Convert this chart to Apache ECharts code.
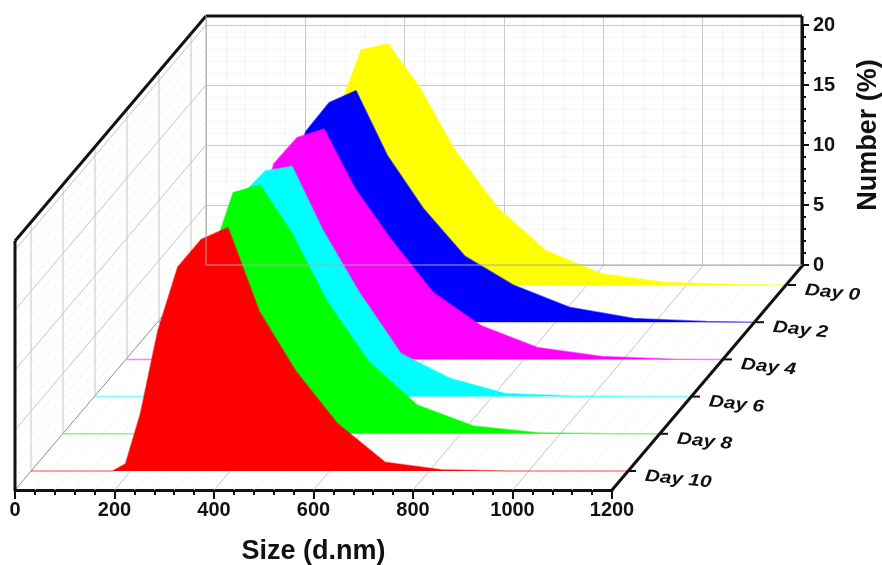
<!DOCTYPE html>
<html>
<head>
<meta charset="utf-8">
<style>html,body{margin:0;padding:0;background:#fff}#c{width:882px;height:565px}</style>
<script src="https://cdn.jsdelivr.net/npm/echarts@6/dist/echarts.min.js"></script>
</head>
<body>
<div id="c"></div>
<script>
var sizes = [0, 164, 190, 220, 255, 295, 342, 396, 459, 531, 615, 712, 825, 955, 1100, 1200];
var day0  = [0, 0, 0.4, 3.3, 9.5, 14.4, 19.6, 20.1, 16.5, 11.2, 6.5, 2.9, 0.93, 0.21, 0.04, 0];
var day2  = [0, 0, 0.5, 3.7, 10.9, 15.9, 18.3, 19.3, 13.9, 9.5, 5.5, 3.1, 1.25, 0.31, 0.05, 0];
var day4  = [0, 0, 0.5, 3.6, 10.2, 16.3, 18.5, 19.2, 14.2, 10.0, 5.6, 2.8, 1.0, 0.25, 0.02, 0];
var day6  = [0, 0, 0.5, 3.9, 10.9, 16.8, 18.8, 19.2, 13.8, 8.7, 3.6, 1.56, 0.25, 0.06, 0.01, 0];
var day8  = [0, 0, 0.4, 2.9, 8.7, 14.3, 20.1, 20.75, 16.8, 11.0, 6.0, 2.4, 0.66, 0.08, 0.01, 0];
var day10 = [0, 0, 0.6, 4.8, 11.7, 17.0, 19.3, 20.3, 13.3, 8.4, 4.0, 0.73, 0.1, 0.01, 0, 0];
var dayNames = ['Day 0', 'Day 2', 'Day 4', 'Day 6', 'Day 8', 'Day 10'];
var dayValues = [day0, day2, day4, day6, day8, day10];
var dayColors = ['#ffff00', '#0000ff', '#ff00ff', '#00ffff', '#00ff00', '#ff0000'];
var xTicks = [0, 200, 400, 600, 800, 1000, 1200];
var yTicks = [0, 5, 10, 15, 20];
var xMinor = [];
var yMinor = [];
for (var t = 40; t < 1200; t += 40) if (t % 200) xMinor.push(t);
for (var u = 1; u < 20; u++) if (u % 5) yMinor.push(u);

var TOP = 20.75;
var W = 597, H = 249, DX = 191, DY = -225;
var FONT = '"Liberation Sans", Arial, sans-serif';
var AX = '#111';
var plain = function (v) { return String(v); };
var grids = [
  {left: 15, top: 241, width: W, height: H, outerBoundsMode: 'none'},
  {left: 206, top: 16, width: W - 1, height: H, outerBoundsMode: 'none'},
  {left: 206, top: 25, width: W - 1, height: 240, outerBoundsMode: 'none'}
];
var xAxes = [
  {gridIndex: 0, type: 'value', min: 0, max: 1200, interval: 200, position: 'bottom',
   name: 'Size (d.nm)', nameLocation: 'middle', nameGap: 48,
   nameTextStyle: {fontFamily: FONT, fontWeight: 'bold', fontSize: 27, color: AX},
   axisLine: {show: true, onZero: false, lineStyle: {color: AX, width: 3}},
   axisTick: {show: true, inside: false, length: 9, lineStyle: {color: AX, width: 2}},
   minorTick: {show: true, splitNumber: 5, length: 5, lineStyle: {color: AX, width: 2}},
   axisLabel: {formatter: plain, fontFamily: FONT, fontWeight: 'bold', fontSize: 20, color: AX, margin: 10, hideOverlap: false, showMinLabel: true, showMaxLabel: true},
   splitLine: {show: false}},
  {gridIndex: 1, type: 'value', min: 0, max: 1200, interval: 200, position: 'bottom',
   axisLine: {show: false}, axisTick: {show: false}, axisLabel: {show: false},
   minorTick: {show: false, splitNumber: 5},
   splitLine: {show: true, lineStyle: {color: '#c9c9c9', width: 1}},
   minorSplitLine: {show: true, lineStyle: {color: '#ececec', width: 1, type: 'dotted'}}},
  {gridIndex: 2, type: 'value', min: 0, max: 1200, show: false}
];
var yAxes = [
  {gridIndex: 0, type: 'value', min: 0, max: TOP, show: false},
  {gridIndex: 1, type: 'value', min: 0, max: TOP, show: false},
  {gridIndex: 2, type: 'value', min: 0, max: 20, interval: 5, position: 'right',
   name: 'Number (%)', nameLocation: 'middle', nameRotate: 90, nameGap: 53,
   nameTextStyle: {fontFamily: FONT, fontWeight: 'bold', fontSize: 27, color: AX, padding: [0, 0, 0, 20]},
   axisLine: {show: true, onZero: false, lineStyle: {color: AX, width: 3}},
   axisTick: {show: true, inside: false, length: 7, lineStyle: {color: AX, width: 2}},
   minorTick: {show: true, splitNumber: 5, length: 4, lineStyle: {color: AX, width: 2}},
   axisLabel: {formatter: plain, fontFamily: FONT, fontWeight: 'bold', fontSize: 20, color: AX, margin: 11, showMinLabel: true, showMaxLabel: true},
   splitLine: {show: true, lineStyle: {color: '#c9c9c9', width: 1}},
   minorSplitLine: {show: true, lineStyle: {color: '#ececec', width: 1, type: 'dotted'}}}
];

function line(p, q, stroke, width, dash) {
  return {type: 'line', shape: {x1: p[0], y1: p[1], x2: q[0], y2: q[1]},
          style: {stroke: stroke, lineWidth: width, lineDash: dash || null, fill: null}, silent: true};
}
function depthSeries(data, mk, stroke, width, dash, z) {
  return {type: 'custom', coordinateSystem: 'cartesian2d', xAxisIndex: 0, yAxisIndex: 0,
    clip: false, silent: true, z: z, animation: false, data: data.map(function (d) { return [d]; }),
    encode: {x: 0},
    renderItem: function (params, api) {
      var a = api.coord(mk(api.value(0)));
      return line(a, [a[0] + DX, a[1] + DY], stroke, width, dash);
    }};
}
function onFloor(v) { return [v, 0]; }
function onWall(v) { return [0, v]; }

var series = [
  depthSeries(xMinor, onFloor, '#efefef', 1, [3, 2], 1),
  depthSeries(yMinor, onWall, '#efefef', 1, [3, 2], 1),
  depthSeries(xTicks.slice(1, -1), onFloor, '#c4c4c4', 1, null, 1),
  depthSeries(yTicks.slice(1, -1), onWall, '#c4c4c4', 1, null, 1),
  depthSeries([20], onWall, '#c4c4c4', 1, null, 1),
  depthSeries([0], onFloor, '#8c8c8c', 1, null, 1),
  depthSeries([1200], onFloor, AX, 3, null, 20),
  depthSeries([TOP], onWall, AX, 3, null, 20),
  {type: 'custom', coordinateSystem: 'cartesian2d', xAxisIndex: 1, yAxisIndex: 1, clip: false, silent: true, z: 20,
   data: [[0]], encode: {x: 0},
   renderItem: function (params, api) {
     return {type: 'group', children: [
       line(api.coord([0, TOP]), api.coord([1200, TOP]), AX, 3),
       line(api.coord([1200, 0]), api.coord([1200, TOP]), AX, 3),
       line(api.coord([0, 0]), api.coord([0, TOP]), '#a8a8a8', 1),
       line(api.coord([0, 0]), api.coord([1200, 0]), '#a8a8a8', 1)
     ]};
   }},
  {type: 'custom', coordinateSystem: 'cartesian2d', xAxisIndex: 0, yAxisIndex: 0, clip: false, silent: true, z: 20,
   data: [[0]], encode: {x: 0},
   renderItem: function (params, api) {
     return line(api.coord([0, 0]), api.coord([0, TOP]), AX, 3);
   }}
];

dayNames.forEach(function (name, i) {
  var g = grids.length;
  grids.push({left: 31 + 32 * (5 - i), top: 222 - 37.2 * (5 - i), width: W, height: H, outerBoundsMode: 'none'});
  xAxes.push({gridIndex: g, type: 'value', min: 0, max: 1200, show: false});
  yAxes.push({gridIndex: g, type: 'value', min: 0, max: TOP, show: false});
  series.push({
    type: 'line', name: name, xAxisIndex: g, yAxisIndex: g, z: 5 + i, showSymbol: false, symbol: 'none',
    animation: false, silent: true, clip: false,
    data: sizes.map(function (s, k) { return [s, dayValues[i][k]]; }),
    lineStyle: {color: dayColors[i], width: 1.5, opacity: 0.5},
    areaStyle: {color: dayColors[i], opacity: 1},
    itemStyle: {color: dayColors[i]}
  });
  series.push({
    type: 'custom', coordinateSystem: 'cartesian2d', xAxisIndex: g, yAxisIndex: g, clip: false, silent: true, z: 2,
    data: [[0]], encode: {x: 0},
    renderItem: function (params, api) {
      return line(api.coord([0, 0]), api.coord([0, TOP]), '#c4c4c4', 1);
    }
  });
  series.push({
    type: 'custom', coordinateSystem: 'cartesian2d', xAxisIndex: g, yAxisIndex: g, clip: false, silent: true, z: 21,
    data: [[0]], encode: {x: 0},
    renderItem: function (params, api) {
      var p = api.coord([1200, 0]);
      return {type: 'group', children: [
        line(p, [p[0] + 8, p[1]], AX, 2),
        {type: 'text', x: p[0] + 17, y: p[1] + 5, scaleX: 1.22, rotation: -0.1,
         style: {text: name, fill: AX, font: 'italic bold 17px ' + FONT, textAlign: 'left', textVerticalAlign: 'middle'}}
      ]};
    }
  });
});

var chart = echarts.init(document.getElementById('c'), null, {renderer: 'canvas'});
chart.setOption({
  animation: false,
  backgroundColor: '#fff',
  grid: grids, xAxis: xAxes, yAxis: yAxes, series: series
});
</script>
</body>
</html>
